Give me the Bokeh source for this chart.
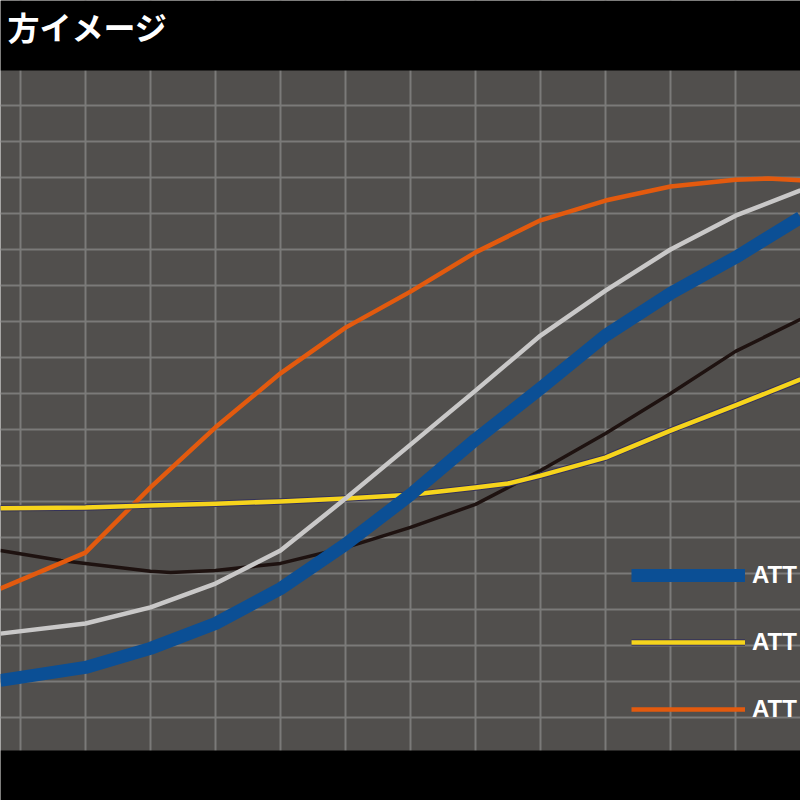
from bokeh.plotting import figure
from bokeh.models import FixedTicker, Grid, Legend, LegendItem, Range1d, BoxAnnotation, Label
from bokeh.embed import file_html
from bokeh.resources import INLINE

# ---- data (x: one unit per vertical grid line, y: one unit per horizontal grid line)
title_text = "方イメージ"
x_grid_ticks = list(range(0, 13))
y_grid_ticks = list(range(1, 19))

blue_x = [-0.31, 1, 2, 3, 4, 5, 6, 7, 8, 9, 10, 11, 12]
blue_y = [2.03, 2.39, 2.92, 3.61, 4.58, 5.81, 7.19, 8.72, 10.14, 11.61, 12.78, 13.78, 14.89]

gray_x = [-0.31, 1, 2, 3, 4, 5, 6, 7, 8, 9, 10, 11, 12]
gray_y = [3.33, 3.61, 4.06, 4.72, 5.64, 7.08, 8.58, 10.08, 11.61, 12.86, 14.0, 14.94, 15.64]

orange_x = [-0.31, 1, 2, 3, 4, 5, 6, 7, 8, 9, 10, 11, 11.5, 12]
orange_y = [4.58, 5.58, 7.39, 9.06, 10.56, 11.83, 12.83, 13.92, 14.81, 15.36, 15.75, 15.94, 15.97, 15.92]

yellow_x = [-0.31, 1, 2, 3, 4, 5, 6, 7, 7.5, 8, 9, 10, 11, 12]
yellow_y = [6.81, 6.83, 6.89, 6.94, 7.0, 7.08, 7.19, 7.39, 7.5, 7.72, 8.22, 8.97, 9.67, 10.39]

black_x = [-0.31, 0.62, 1, 2, 2.31, 3, 4, 5, 6, 7, 8, 9, 10, 11, 12]
black_y = [5.64, 5.36, 5.28, 5.06, 5.03, 5.08, 5.28, 5.72, 6.28, 6.92, 7.86, 8.89, 10.0, 11.17, 12.06]

legend_labels = ["ATT", "ATT", "ATT"]

# ---- figure: the frame fills the canvas; black bands are drawn as boxes
plot_top, plot_bottom = 18.97, 0.083
p = figure(width=800, height=800, output_backend="svg", toolbar_location=None,
           x_axis_type=None, y_axis_type=None,
           x_range=Range1d(-0.3077, 12.0), y_range=Range1d(-1.306, 20.917),
           min_border=0)
p.border_fill_color = "black"
p.background_fill_color = "#514f4d"
p.outline_line_color = None

p.add_layout(Grid(dimension=0, ticker=FixedTicker(ticks=x_grid_ticks),
                  grid_line_color="#7b7a79", grid_line_width=2))
p.add_layout(Grid(dimension=1, ticker=FixedTicker(ticks=y_grid_ticks),
                  grid_line_color="#7b7a79", grid_line_width=2))

r_black = p.line(black_x, black_y, line_color="#1e1210", line_width=3.5, line_join="round")
r_orange = p.line(orange_x, orange_y, line_color="#e35a0e", line_width=4.5, line_join="round")
r_yellow_edge = p.line(yellow_x, yellow_y, line_color="#34325a", line_width=6.5, line_join="round")
r_yellow = p.line(yellow_x, yellow_y, line_color="#f6d41c", line_width=4.5, line_join="round")
r_gray = p.line(gray_x, gray_y, line_color="#c9c8c8", line_width=4.5, line_join="round")
r_blue = p.line(blue_x, blue_y, line_color="#0b4f95", line_width=13, line_join="round")

p.add_layout(BoxAnnotation(bottom=plot_top, fill_color="black", fill_alpha=1.0, line_alpha=0))
p.add_layout(BoxAnnotation(top=plot_bottom, fill_color="black", fill_alpha=1.0, line_alpha=0))

p.add_layout(Label(x=-0.2, y=20.2, text=title_text, text_align="left", text_baseline="middle",
                   text_color="white", text_font="Noto Sans CJK JP", text_font_style="bold",
                   text_font_size="32px"))

legend = Legend(items=[LegendItem(label=legend_labels[0], renderers=[r_blue]),
                       LegendItem(label=legend_labels[1], renderers=[r_yellow_edge, r_yellow]),
                       LegendItem(label=legend_labels[2], renderers=[r_orange])],
                location=(631, 71), orientation="vertical",
                glyph_width=114, glyph_height=40, label_height=40, label_standoff=7,
                spacing=27, padding=0, margin=0,
                background_fill_alpha=0, border_line_alpha=0,
                label_text_color="white", label_text_font="Liberation Sans",
                label_text_font_style="bold", label_text_font_size="24px")
p.add_layout(legend)

open("out.html", "w").write(file_html(p, INLINE))
